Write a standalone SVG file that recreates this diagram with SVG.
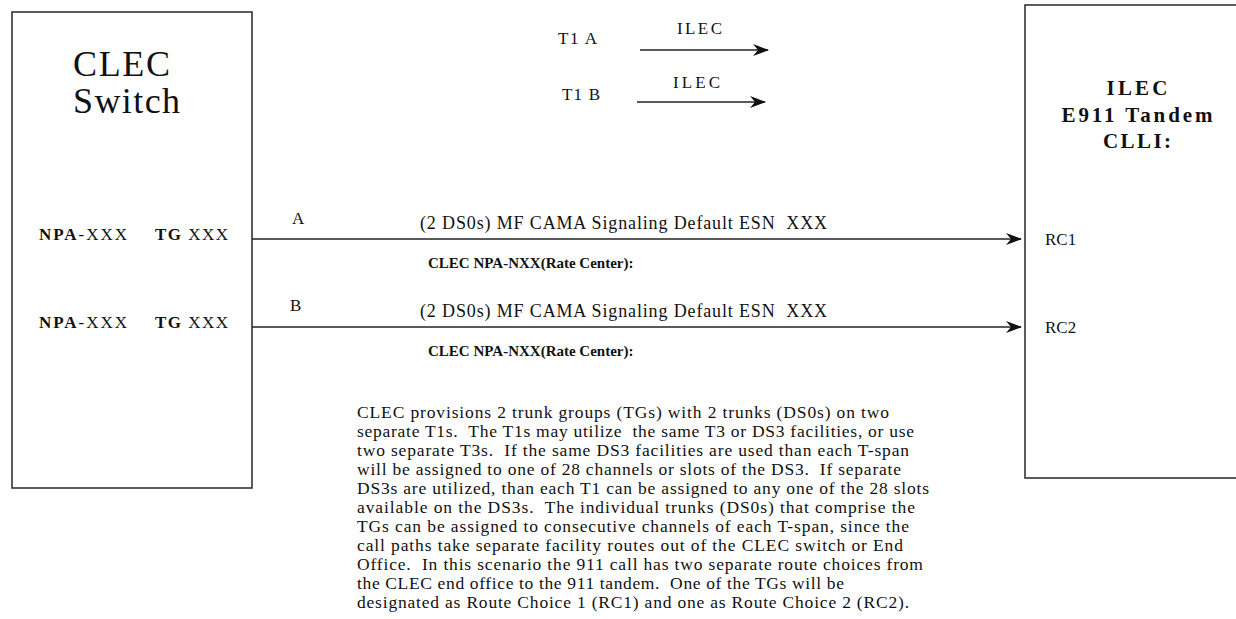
<svg xmlns="http://www.w3.org/2000/svg" width="1236" height="619" viewBox="0 0 1236 619">
<style>
  .box { fill: #ffffff; stroke: #333333; stroke-width: 1.6; }
  .ln { stroke: #222222; stroke-width: 1.6; fill: none; }
  .t { font-family: "Liberation Serif", "Times New Roman", serif; fill: #111111; font-size: 17px; white-space: pre; }
  .b { font-weight: bold; }
  .lab { font-size: 18px; }
  .sub { font-size: 15px; font-weight: bold; }
  .p { font-size: 17.5px; }
  .title { font-size: 36px; }
  .tt { font-size: 21px; font-weight: bold; }
</style>
<defs>
  <marker id="ah" viewBox="0 0 16 12" refX="15" refY="6" markerWidth="16" markerHeight="12" markerUnits="userSpaceOnUse" orient="auto">
    <path d="M0,0 L16,6 L0,12 L5,6 Z" fill="#111111"/>
  </marker>
</defs>
<rect width="1236" height="619" fill="#ffffff"/>

<g id="clec-switch">
  <rect class="box" x="12" y="12" width="240" height="476"/>
  <text class="t title" x="73" y="76" textLength="97" lengthAdjust="spacing">CLEC</text>
  <text class="t title" x="73" y="113" textLength="107" lengthAdjust="spacing">Switch</text>
  <text class="t" x="39" y="240" textLength="88" lengthAdjust="spacing"><tspan class="b">NPA</tspan>-XXX</text>
  <text class="t" x="155" y="240" textLength="73" lengthAdjust="spacing"><tspan class="b">TG</tspan> XXX</text>
  <text class="t" x="39" y="328" textLength="88" lengthAdjust="spacing"><tspan class="b">NPA</tspan>-XXX</text>
  <text class="t" x="155" y="328" textLength="73" lengthAdjust="spacing"><tspan class="b">TG</tspan> XXX</text>
</g>

<g id="ilec-tandem">
  <rect class="box" x="1025" y="5" width="220" height="473"/>
  <text class="t tt" x="1137" y="95" text-anchor="middle" textLength="61" lengthAdjust="spacing">ILEC</text>
  <text class="t tt" x="1137" y="122" text-anchor="middle" textLength="151" lengthAdjust="spacing">E911 Tandem</text>
  <text class="t tt" x="1137" y="148" text-anchor="middle" textLength="68" lengthAdjust="spacing">CLLI:</text>
  <text class="t" x="1045" y="245">RC1</text>
  <text class="t" x="1045" y="333">RC2</text>
</g>

<g id="legend">
  <text class="t" x="558" y="44" textLength="39" lengthAdjust="spacing">T1 A</text>
  <text class="t" x="677" y="34" textLength="45" lengthAdjust="spacing">ILEC</text>
  <text class="t" x="562" y="100" textLength="38" lengthAdjust="spacing">T1 B</text>
  <text class="t" x="673" y="88" textLength="47" lengthAdjust="spacing">ILEC</text>
</g>

<g id="connectors">
  <line class="ln" x1="640" y1="50" x2="768" y2="50" marker-end="url(#ah)"/>
  <line class="ln" x1="637" y1="102" x2="765" y2="102" marker-end="url(#ah)"/>
  <line class="ln" x1="252" y1="239" x2="1021" y2="239" marker-end="url(#ah)"/>
  <line class="ln" x1="252" y1="327" x2="1021" y2="327" marker-end="url(#ah)"/>
</g>

<g id="trunk-labels">
  <text class="t" x="292" y="224">A</text>
  <text class="t lab" x="420" y="229" textLength="407" lengthAdjust="spacing">(2 DS0s) MF CAMA Signaling Default ESN  XXX</text>
  <text class="t sub" x="428" y="268">CLEC NPA-NXX(Rate Center):</text>
  <text class="t" x="290" y="311">B</text>
  <text class="t lab" x="420" y="317" textLength="407" lengthAdjust="spacing">(2 DS0s) MF CAMA Signaling Default ESN  XXX</text>
  <text class="t sub" x="428" y="356">CLEC NPA-NXX(Rate Center):</text>
</g>

<g id="description">
  <text class="t p" x="357" y="418" textLength="532" lengthAdjust="spacing">CLEC provisions 2 trunk groups (TGs) with 2 trunks (DS0s) on two</text>
  <text class="t p" x="357" y="437" textLength="557" lengthAdjust="spacing">separate T1s.  The T1s may utilize  the same T3 or DS3 facilities, or use</text>
  <text class="t p" x="357" y="456" textLength="552" lengthAdjust="spacing">two separate T3s.  If the same DS3 facilities are used than each T-span</text>
  <text class="t p" x="357" y="475" textLength="544" lengthAdjust="spacing">will be assigned to one of 28 channels or slots of the DS3.  If separate</text>
  <text class="t p" x="357" y="494" textLength="572" lengthAdjust="spacing">DS3s are utilized, than each T1 can be assigned to any one of the 28 slots</text>
  <text class="t p" x="357" y="513" textLength="558" lengthAdjust="spacing">available on the DS3s.  The individual trunks (DS0s) that comprise the</text>
  <text class="t p" x="357" y="532" textLength="552" lengthAdjust="spacing">TGs can be assigned to consecutive channels of each T-span, since the</text>
  <text class="t p" x="357" y="551" textLength="546" lengthAdjust="spacing">call paths take separate facility routes out of the CLEC switch or End</text>
  <text class="t p" x="357" y="570" textLength="566" lengthAdjust="spacing">Office.  In this scenario the 911 call has two separate route choices from</text>
  <text class="t p" x="357" y="589" textLength="487" lengthAdjust="spacing">the CLEC end office to the 911 tandem.  One of the TGs will be</text>
  <text class="t p" x="357" y="608" textLength="552" lengthAdjust="spacing">designated as Route Choice 1 (RC1) and one as Route Choice 2 (RC2).</text>
</g>
</svg>
